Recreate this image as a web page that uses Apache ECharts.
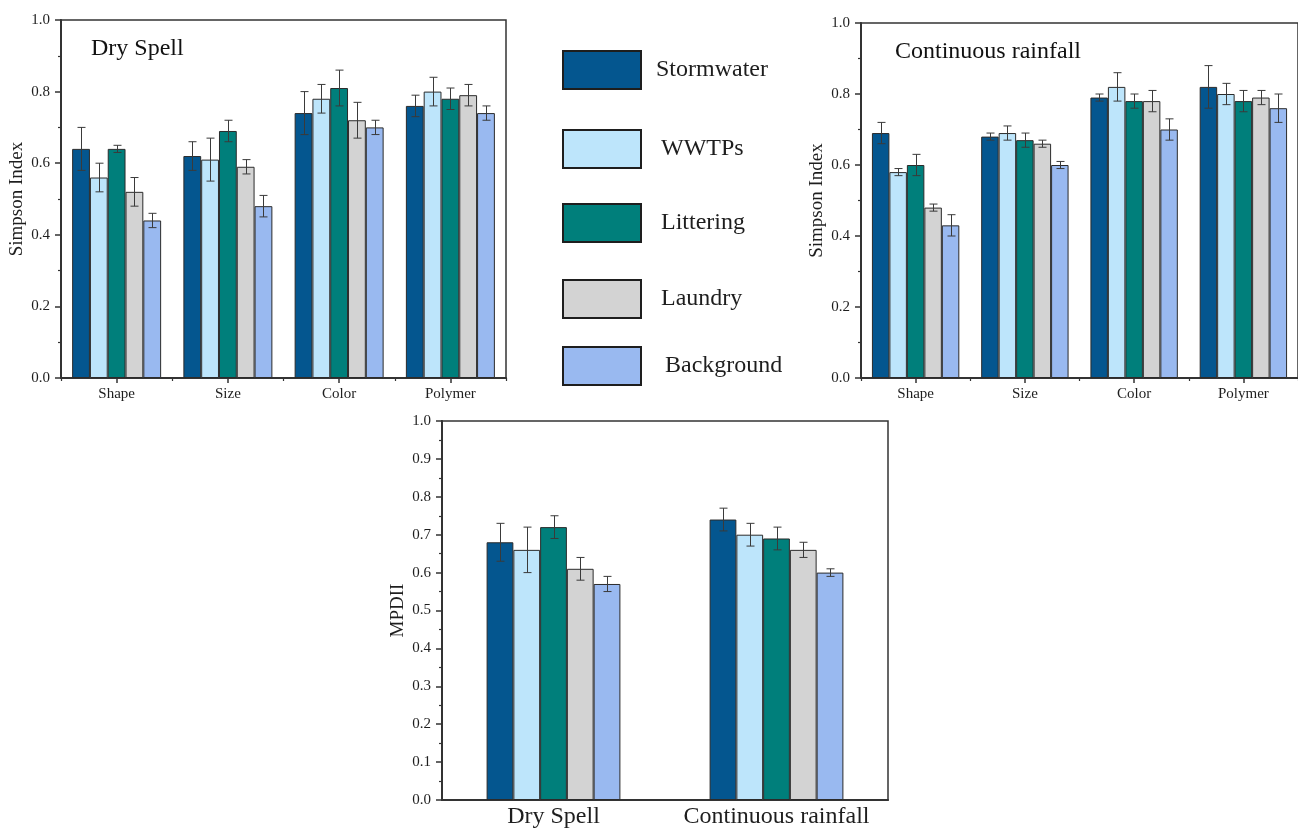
<!DOCTYPE html>
<html>
<head>
<meta charset="utf-8">
<script src="https://cdn.jsdelivr.net/npm/echarts@6/dist/echarts.min.js"></script>
<style>
  html, body { margin: 0; padding: 0; background: #ffffff; }
  #chart { width: 1298px; height: 829px; }
</style>
</head>
<body>
<div id="chart"></div>
<script>
// Pollution sources (one bar series each) and grouping categories
const sources = ['Stormwater', 'WWTPs', 'Littering', 'Laundry', 'Background'];
const features = ['Shape', 'Size', 'Color', 'Polymer'];
const scenarios = ['Dry Spell', 'Continuous rainfall'];

// Simpson index during dry spell: one row per source, one column per feature
const drySimpson = [
  [0.64, 0.62, 0.74, 0.76],
  [0.56, 0.61, 0.78, 0.80],
  [0.64, 0.69, 0.81, 0.78],
  [0.52, 0.59, 0.72, 0.79],
  [0.44, 0.48, 0.70, 0.74]
];
const drySimpsonErr = [
  [0.06, 0.04, 0.06, 0.03],
  [0.04, 0.06, 0.04, 0.04],
  [0.01, 0.03, 0.05, 0.03],
  [0.04, 0.02, 0.05, 0.03],
  [0.02, 0.03, 0.02, 0.02]
];

// Simpson index during continuous rainfall
const rainSimpson = [
  [0.69, 0.68, 0.79, 0.82],
  [0.58, 0.69, 0.82, 0.80],
  [0.60, 0.67, 0.78, 0.78],
  [0.48, 0.66, 0.78, 0.79],
  [0.43, 0.60, 0.70, 0.76]
];
const rainSimpsonErr = [
  [0.03, 0.01, 0.01, 0.06],
  [0.01, 0.02, 0.04, 0.03],
  [0.03, 0.02, 0.02, 0.03],
  [0.01, 0.01, 0.03, 0.02],
  [0.03, 0.01, 0.03, 0.04]
];

// MPDII per scenario: one row per source, columns = [Dry Spell, Continuous rainfall]
const mpdii = [
  [0.68, 0.74],
  [0.66, 0.70],
  [0.72, 0.69],
  [0.61, 0.66],
  [0.57, 0.60]
];
const mpdiiErr = [
  [0.05, 0.03],
  [0.06, 0.03],
  [0.03, 0.03],
  [0.03, 0.02],
  [0.02, 0.01]
];

const sourceColors = ['#04568f', '#bde5fb', '#007f7b', '#d3d3d3', '#99b9f0'];

const FONT = '"Liberation Serif", "Times New Roman", serif';
const INK = '#1e1e1e';
const AXIS = '#333333';

// Error bars: vertical whisker with caps, offset to sit on the matching bar of its group
function errorBarRenderer(seriesIdx, categoryGap) {
  return function (params, api) {
    const cat = api.value(0);
    const low = api.value(1);
    const high = api.value(2);
    const band = api.size([1, 0])[0];
    const barW = band * (1 - categoryGap) / sources.length;
    const offset = (seriesIdx - (sources.length - 1) / 2) * barW;
    const pLow = api.coord([cat, low]);
    const pHigh = api.coord([cat, high]);
    const x = Math.round(pLow[0] + offset) + 0.5;
    const cap = 4;
    const style = { stroke: '#3a3a3a', lineWidth: 1, fill: null };
    return {
      type: 'group',
      children: [
        { type: 'line', shape: { x1: x, y1: pHigh[1], x2: x, y2: pLow[1] }, style: style },
        { type: 'line', shape: { x1: x - cap, y1: pHigh[1], x2: x + cap, y2: pHigh[1] }, style: style },
        { type: 'line', shape: { x1: x - cap, y1: pLow[1], x2: x + cap, y2: pLow[1] }, style: style }
      ]
    };
  };
}

function buildPanel(values, errs, xAxisIndex, yAxisIndex, categoryGap) {
  const out = [];
  sources.forEach(function (name, i) {
    out.push({
      name: name,
      type: 'bar',
      xAxisIndex: xAxisIndex,
      yAxisIndex: yAxisIndex,
      data: values[i],
      barGap: 0,
      barCategoryGap: (categoryGap * 100) + '%',
      itemStyle: { color: sourceColors[i], borderColor: '#2b2b2b', borderWidth: 1 },
      emphasis: { disabled: true }
    });
  });
  sources.forEach(function (name, i) {
    out.push({
      name: name + ' error',
      type: 'custom',
      xAxisIndex: xAxisIndex,
      yAxisIndex: yAxisIndex,
      z: 3,
      silent: true,
      renderItem: errorBarRenderer(i, categoryGap),
      encode: { x: 0, y: [1, 2] },
      data: values[i].map(function (v, k) {
        return [k, +(v - errs[i][k]).toFixed(3), +(v + errs[i][k]).toFixed(3)];
      })
    });
  });
  return out;
}

function valueAxis(gridIndex, interval, name) {
  return {
    type: 'value',
    gridIndex: gridIndex,
    min: 0,
    max: 1,
    interval: interval,
    name: name,
    nameLocation: 'middle',
    nameGap: 34,
    nameTextStyle: { fontFamily: FONT, fontSize: 19, color: INK },
    axisLine: { show: true, lineStyle: { color: AXIS, width: 2 } },
    axisTick: { show: true, length: 6, lineStyle: { color: AXIS, width: 1.5 } },
    minorTick: { show: true, splitNumber: 2, length: 3, lineStyle: { color: AXIS, width: 1.2 } },
    splitLine: { show: false },
    axisLabel: {
      margin: 11,
      fontFamily: FONT,
      fontSize: 15,
      color: INK,
      formatter: function (v) { return v.toFixed(1); }
    }
  };
}

function featureAxis(gridIndex) {
  return {
    type: 'category',
    gridIndex: gridIndex,
    position: 'bottom',
    data: features,
    axisLine: { show: true, lineStyle: { color: AXIS, width: 2 } },
    axisTick: { show: true, alignWithLabel: true, length: 5, lineStyle: { color: AXIS, width: 1.5 } },
    axisLabel: { interval: 0, margin: 9, fontFamily: FONT, fontSize: 15, color: INK },
    splitLine: { show: false }
  };
}

// Short ticks at the category boundaries, on the same bottom edge
function boundaryAxis(gridIndex) {
  return {
    type: 'category',
    gridIndex: gridIndex,
    position: 'bottom',
    data: features,
    axisLine: { show: false },
    axisTick: { show: true, interval: 0, length: 3, lineStyle: { color: AXIS, width: 1.2 } },
    axisLabel: { show: false },
    splitLine: { show: false }
  };
}

function legendEntry(name, top, textGap) {
  return {
    data: [{ name: name, icon: 'rect' }],
    left: 562,
    top: top,
    orient: 'vertical',
    padding: 0,
    itemWidth: 78,
    itemHeight: 38,
    itemStyle: { borderColor: '#1e1e1e', borderWidth: 2 },
    textStyle: { fontFamily: FONT, fontSize: 24, color: INK, padding: [0, 0, 0, textGap] }
  };
}

const gridFrame = { show: true, borderColor: AXIS, borderWidth: 1.5, backgroundColor: 'transparent' };

const option = {
  backgroundColor: '#ffffff',
  animation: false,
  title: [
    { text: 'Dry Spell', left: 91, top: 37, padding: 0,
      textStyle: { fontFamily: FONT, fontSize: 24, fontWeight: 'normal', color: '#111' } },
    { text: 'Continuous rainfall', left: 895, top: 40, padding: 0,
      textStyle: { fontFamily: FONT, fontSize: 24, fontWeight: 'normal', color: '#111' } }
  ],
  legend: [
    legendEntry('Stormwater', 50, 10),
    legendEntry('WWTPs', 129, 15),
    legendEntry('Littering', 203, 15),
    legendEntry('Laundry', 279, 15),
    legendEntry('Background', 346, 19)
  ],
  grid: [
    Object.assign({ left: 61, top: 20, width: 445, height: 358 }, gridFrame),
    Object.assign({ left: 861, top: 23, width: 445, height: 355 }, gridFrame),
    Object.assign({ left: 442, top: 421, width: 446, height: 379 }, gridFrame)
  ],
  xAxis: [
    featureAxis(0),
    boundaryAxis(0),
    featureAxis(1),
    boundaryAxis(1),
    {
      type: 'category',
      gridIndex: 2,
      position: 'bottom',
      data: scenarios,
      axisLine: { show: true, lineStyle: { color: AXIS, width: 2 } },
      axisTick: { show: false },
      axisLabel: { interval: 0, margin: 5, fontFamily: FONT, fontSize: 24, color: INK },
      splitLine: { show: false }
    }
  ],
  yAxis: [
    valueAxis(0, 0.2, 'Simpson Index'),
    valueAxis(1, 0.2, 'Simpson Index'),
    valueAxis(2, 0.1, 'MPDII')
  ],
  series: []
    .concat(buildPanel(drySimpson, drySimpsonErr, 0, 0, 0.2))
    .concat(buildPanel(rainSimpson, rainSimpsonErr, 2, 1, 0.2))
    .concat(buildPanel(mpdii, mpdiiErr, 4, 2, 0.4))
};

const chart = echarts.init(document.getElementById('chart'), null, { renderer: 'canvas' });
chart.setOption(option);
</script>
</body>
</html>
